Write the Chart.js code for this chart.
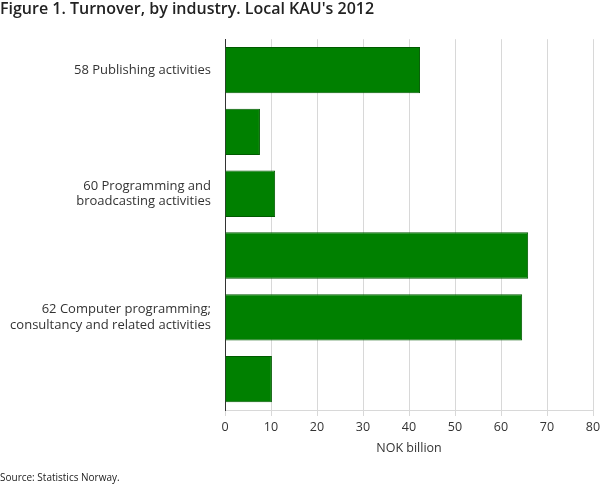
<!DOCTYPE html>
<html><head><meta charset="utf-8">
<script src="https://cdn.jsdelivr.net/npm/chart.js@4"></script>
<style>html,body{margin:0;padding:0;background:#fff}#w{width:610px;height:488px}</style>
</head><body><div id="w"><canvas id="c"></canvas></div>
<script>
const categories=[["58 Publishing activities"],["59 Motion picture, video and ","television programme production,","sound recording and music","publishing activities"],["60 Programming and","broadcasting activities"],["61 Telecommunications"],["62 Computer programming;","consultancy and related activities"],["63 Information service activities"]];
const values=[42.4,7.6,10.9,65.9,64.6,10.2];
const xTicks=[0,10,20,30,40,50,60,70,80];
Chart.defaults.font.family="'Open Sans'";
Chart.defaults.color="#333";
new Chart(document.getElementById('c'),{type:'bar',
data:{labels:categories,datasets:[{data:values,backgroundColor:'#008000',borderColor:'#005a00',borderWidth:1,barPercentage:0.75,categoryPercentage:1}]},
options:{indexAxis:'y',responsive:true,maintainAspectRatio:false,animation:false,
layout:{padding:{left:0,right:17,top:0,bottom:0}},
plugins:{legend:{display:false},tooltip:{enabled:false},
title:{display:true,text:"Figure 1. Turnover, by industry. Local KAU's 2012",align:'start',font:{size:16,weight:'600'},color:'#222',padding:{top:0,bottom:20}},
subtitle:{display:true,position:'bottom',text:'Source: Statistics Norway.',align:'start',font:{size:10},color:'#222',padding:{top:12,bottom:4}}},
scales:{x:{min:0,max:80,afterBuildTicks:a=>{a.ticks=xTicks.map(v=>({value:v}))},ticks:{font:{size:12.5},padding:4},grid:{color:'#d8d8d8',drawTicks:true,tickLength:6},border:{color:'#d8d8d8'},
title:{display:true,text:'NOK billion',font:{size:12.5},padding:{top:2}}},
y:{afterFit:s=>{s.width=225},grid:{display:false},border:{color:'#333'},ticks:{font:{size:13},padding:6,color:'#333'}}}}});
</script></body></html>
